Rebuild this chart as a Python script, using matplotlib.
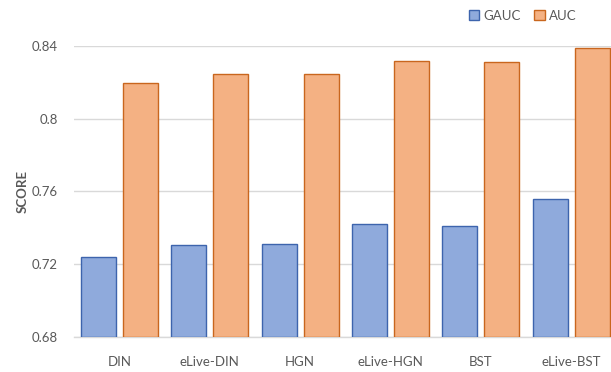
import matplotlib
matplotlib.use("Agg")
import matplotlib.pyplot as plt
import numpy as np

plt.rcParams['font.family'] = ['Lato', 'DejaVu Sans']

models = ["DIN", "eLive-DIN", "HGN", "eLive-HGN", "BST", "eLive-BST"]
gauc = [0.7237, 0.7302, 0.7312, 0.7421, 0.7408, 0.7560]
auc = [0.8199, 0.8249, 0.8249, 0.8320, 0.8311, 0.8391]
yticks = [0.68, 0.72, 0.76, 0.80, 0.84]
ytick_labels = ["0.68", "0.72", "0.76", "0.8", "0.84"]

W, H = 611, 372
fig = plt.figure(figsize=(W / 100, H / 100), dpi=100)
ax = fig.add_axes([74.3 / W, 35.5 / H, 541.9 / W, 290.2 / H])

x = np.arange(len(models))
bw = 0.388
off = 0.2325
ax.bar(x - off, [v - 0.68 for v in gauc], bw, bottom=0.68, color="#8FAADC",
       edgecolor="#3D64AD", linewidth=1.0, label="GAUC", zorder=3)
ax.bar(x + off, [v - 0.68 for v in auc], bw, bottom=0.68, color="#F4B183",
       edgecolor="#C9661E", linewidth=1.0, label="AUC", zorder=3)

ax.set_xlim(-0.5, len(models) - 0.5)
ax.set_ylim(0.68, 0.84)
ax.set_yticks(yticks)
ax.set_yticklabels(ytick_labels)
ax.set_xticks(x)
ax.set_xticklabels(models)
ax.grid(axis="y", color="#D9D9D9", linewidth=1.0, zorder=0)
ax.tick_params(axis="both", length=0, labelsize=9.5, colors="#595959")
ax.tick_params(axis="x", pad=14)
ax.tick_params(axis="y", pad=12)
for s in ["top", "right", "left"]:
    ax.spines[s].set_visible(False)
ax.spines["bottom"].set_color("#D9D9D9")
ax.spines["bottom"].set_linewidth(1.0)

ax.set_ylabel("SCORE", fontsize=9.5, fontweight="bold", color="#595959", labelpad=2)

fig.legend(loc="upper right", bbox_to_anchor=(588 / W, 1.0 + 2 / H), ncol=2,
           frameon=False, fontsize=9.5, handlelength=0.8, handleheight=0.8,
           handletextpad=0.3, columnspacing=1.0, labelcolor="#595959")

fig.savefig("out.png", dpi=100)
